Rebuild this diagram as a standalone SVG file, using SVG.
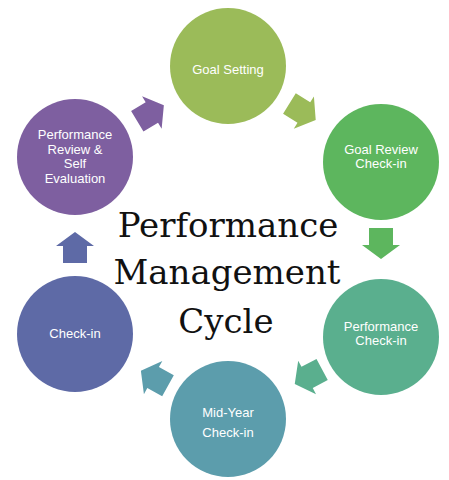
<svg xmlns="http://www.w3.org/2000/svg" width="449" height="480" viewBox="0 0 449 480">
<style>
.lbl{font-family:"Liberation Sans",Arial,sans-serif;font-size:13px;fill:#ffffff;text-anchor:middle}
.title{font-family:"DejaVu Serif",serif;font-size:34px;fill:#111111;text-anchor:middle}
</style>
<defs>
<path id="arr" d="M-16,-12 H1 V-19 L15,0 L1,19 V12 H-16 Z"/>
</defs>
<rect width="449" height="480" fill="#ffffff"/>
<g id="connectors">
<use href="#arr" fill="#9bbb59" transform="translate(303,112) rotate(32)"/>
<use href="#arr" fill="#5db65e" transform="translate(381,244) rotate(90)"/>
<use href="#arr" fill="#5aaf8e" transform="translate(308,377) rotate(152)"/>
<use href="#arr" fill="#5c9dac" transform="translate(154,378) rotate(209)"/>
<use href="#arr" fill="#5e6aa6" transform="translate(75,247) rotate(-90)"/>
<use href="#arr" fill="#7e5fa0" transform="translate(151,113) rotate(-31)"/>
</g>
<g id="goal-setting">
<circle cx="228" cy="66" r="58" fill="#9bbb59"/>
<text class="lbl" x="228" y="74">Goal Setting</text>
</g>
<g id="goal-review">
<circle cx="381" cy="162" r="58" fill="#5db65e"/>
<text class="lbl" x="381" y="154">Goal Review</text>
<text class="lbl" x="381" y="168">Check-in</text>
</g>
<g id="performance-checkin">
<circle cx="381" cy="337" r="58" fill="#5aaf8e"/>
<text class="lbl" x="381" y="331">Performance</text>
<text class="lbl" x="381" y="345">Check-in</text>
</g>
<g id="mid-year">
<circle cx="228" cy="419" r="58" fill="#5c9dac"/>
<text class="lbl" x="228" y="417">Mid-Year</text>
<text class="lbl" x="228" y="437">Check-in</text>
</g>
<g id="checkin">
<circle cx="75" cy="334" r="58" fill="#5e6aa6"/>
<text class="lbl" x="75" y="338">Check-in</text>
</g>
<g id="performance-review">
<circle cx="75" cy="157" r="58" fill="#7e5fa0"/>
<text class="lbl" x="75" y="139">Performance</text>
<text class="lbl" x="75" y="154">Review &amp;</text>
<text class="lbl" x="75" y="168">Self</text>
<text class="lbl" x="75" y="183">Evaluation</text>
</g>
<g id="title">
<text class="title" x="228" y="237">Performance</text>
<text class="title" x="227" y="284">Management</text>
<text class="title" x="226" y="333">Cycle</text>
</g>
</svg>
